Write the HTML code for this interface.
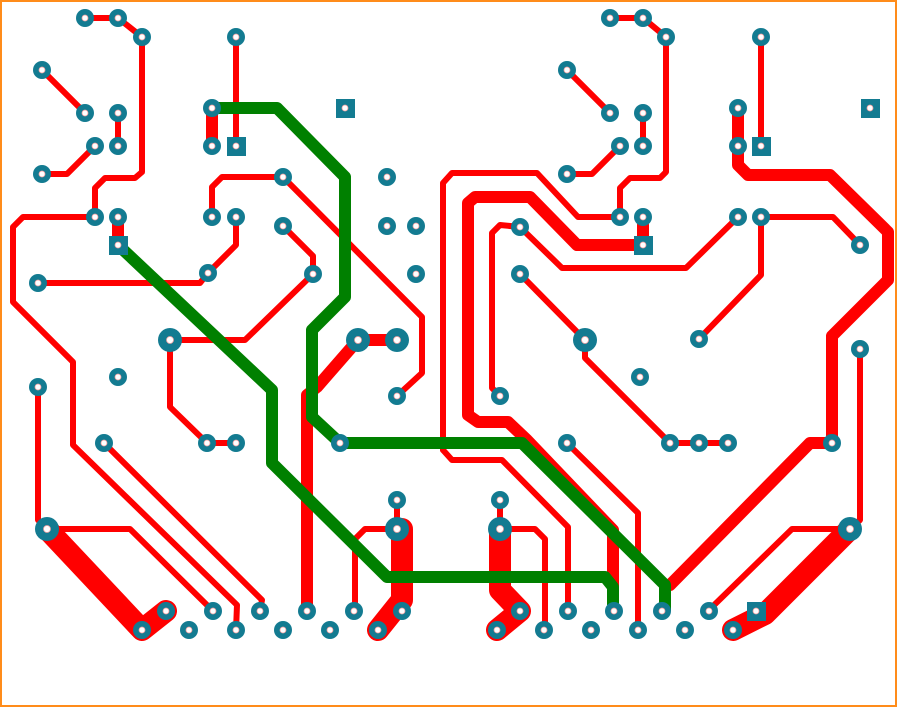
<!DOCTYPE html>
<html><head><meta charset="utf-8"><style>html,body{margin:0;padding:0;background:#fff}svg{display:block}</style></head>
<body>
<svg width="898" height="709" viewBox="0 0 898 709" xmlns="http://www.w3.org/2000/svg">
<rect x="1" y="1" width="895" height="705" fill="#fff" stroke="#ff8c1a" stroke-width="2"/>
<g fill="none" stroke="#ff0000" stroke-linejoin="round" stroke-linecap="round" stroke-width="6">
<polyline points="85,18 118,18 142,37 142,172 135,178 105,178 95,188 95,217"/>
<polyline points="236,37 236,146"/>
<polyline points="42,70 85,113"/>
<polyline points="118,113 118,146"/>
<polyline points="95,146 67,174 42,174"/>
<polyline points="283,177 222,177 212,187 212,217"/>
<polyline points="236,217 236,245 208,273 200,283 38,283"/>
<polyline points="95,217 23,217 13,227 13,302 73,362 73,445 237,605 236,630"/>
<polyline points="283,226 313,256 313,274 245,340 170,340 170,407 207,443 236,443"/>
<polyline points="283,177 422,317 422,373 397,396"/>
<polyline points="38,387 38,520 47,529 130,529 213,611"/>
<polyline points="104,443 262,600 260,611"/>
<polyline points="443,450 443,183 452,173 537,173 578,217 620,217"/>
<polyline points="443,450 452,460 502,460 568,527 568,611"/>
<polyline points="500,396 492,388 492,233 500,225 520,227 562,268 686,268 738,217"/>
<polyline points="761,217 833,217 860,245"/>
<polyline points="761,217 761,275 699,339"/>
<polyline points="520,274 585,340 585,358 670,443 728,443"/>
<polyline points="666,37 666,172 660,178 630,178 620,188 620,217"/>
<polyline points="567,70 610,113"/>
<polyline points="643,113 643,146"/>
<polyline points="620,146 592,174 567,174"/>
<polyline points="610,18 643,18 666,37"/>
<polyline points="761,37 761,146"/>
<polyline points="860,349 860,520 850,529"/>
<polyline points="850,529 792,529 708,611"/>
<polyline points="567,443 638,513 638,630"/>
<polyline points="397,500 397,529 365,529 355,539 355,611"/>
<polyline points="500,500 500,529 535,529 545,539 545,630"/>
</g>
<g fill="none" stroke="#ff0000" stroke-linejoin="round" stroke-linecap="round" stroke-width="12">
<polyline points="212,108 212,146"/>
<polyline points="358,340 397,340"/>
<polyline points="358,340 317,387 307,395 307,611"/>
<polyline points="468,360 468,203 475,197 530,197 577,245 643,245"/>
<polyline points="643,225 643,245"/>
<polyline points="468,360 468,415 478,422 508,422 527,440 613,530 613,600"/>
<polyline points="738,108 738,165 748,175 830,175 888,232 888,280 832,336 832,443 810,443 670,585"/>
<polyline points="118,217 118,245"/>
</g>
<g fill="none" stroke="#ff0000" stroke-linejoin="round" stroke-linecap="round" stroke-width="22">
<polyline points="47,529 142,630 166,611"/>
<polyline points="402,529 402,600 378,630"/>
<polyline points="500,529 500,590 520,611 497,630"/>
<polyline points="850,529 765,614 733,630"/>
</g>
<g fill="none" stroke="#008000" stroke-linejoin="round" stroke-width="12">
<polyline points="212,108 277,108 345,177 345,297 312,330 312,417 340,443 522,443 665,585 665,611"/>
<polyline points="118,245 272,390 272,463 387,577 605,577 613,587 613,605"/>
</g>
<g fill="#137b91">
<rect x="336" y="99" width="19" height="19"/><rect x="227" y="137" width="19" height="19"/>
<rect x="109" y="236" width="19" height="19"/><rect x="634" y="236" width="19" height="19"/>
<rect x="752" y="137" width="19" height="19"/><rect x="861" y="99" width="19" height="19"/>
<rect x="747" y="602" width="19" height="19"/>
</g>
<g fill="#137b91">
<circle cx="85" cy="18" r="9"/><circle cx="118" cy="18" r="9"/><circle cx="142" cy="37" r="9"/><circle cx="236" cy="37" r="9"/>
<circle cx="42" cy="70" r="9"/><circle cx="85" cy="113" r="9"/><circle cx="118" cy="113" r="9"/><circle cx="212" cy="108" r="9"/>
<circle cx="95" cy="146" r="9"/><circle cx="118" cy="146" r="9"/><circle cx="212" cy="146" r="9"/><circle cx="42" cy="174" r="9"/>
<circle cx="283" cy="177" r="9"/><circle cx="387" cy="177" r="9"/><circle cx="95" cy="217" r="9"/><circle cx="118" cy="217" r="9"/>
<circle cx="212" cy="217" r="9"/><circle cx="236" cy="217" r="9"/><circle cx="283" cy="226" r="9"/><circle cx="387" cy="226" r="9"/>
<circle cx="416" cy="226" r="9"/><circle cx="208" cy="273" r="9"/><circle cx="313" cy="274" r="9"/><circle cx="416" cy="274" r="9"/>
<circle cx="38" cy="283" r="9"/><circle cx="170" cy="340" r="12"/><circle cx="358" cy="340" r="12"/><circle cx="397" cy="340" r="12"/>
<circle cx="118" cy="377" r="9"/><circle cx="38" cy="387" r="9"/><circle cx="397" cy="396" r="9"/><circle cx="104" cy="443" r="9"/>
<circle cx="207" cy="443" r="9"/><circle cx="236" cy="443" r="9"/><circle cx="340" cy="443" r="9"/><circle cx="47" cy="529" r="12"/>
<circle cx="397" cy="500" r="9"/><circle cx="397" cy="529" r="12"/><circle cx="500" cy="500" r="9"/><circle cx="500" cy="529" r="12"/>
<circle cx="610" cy="18" r="9"/><circle cx="643" cy="18" r="9"/><circle cx="666" cy="37" r="9"/><circle cx="761" cy="37" r="9"/>
<circle cx="567" cy="70" r="9"/><circle cx="610" cy="113" r="9"/><circle cx="643" cy="113" r="9"/><circle cx="738" cy="108" r="9"/>
<circle cx="620" cy="146" r="9"/><circle cx="643" cy="146" r="9"/><circle cx="738" cy="146" r="9"/><circle cx="567" cy="174" r="9"/>
<circle cx="620" cy="217" r="9"/><circle cx="643" cy="217" r="9"/><circle cx="738" cy="217" r="9"/><circle cx="761" cy="217" r="9"/>
<circle cx="520" cy="227" r="9"/><circle cx="860" cy="245" r="9"/><circle cx="520" cy="274" r="9"/><circle cx="585" cy="340" r="12"/>
<circle cx="699" cy="339" r="9"/><circle cx="860" cy="349" r="9"/><circle cx="640" cy="377" r="9"/><circle cx="500" cy="396" r="9"/>
<circle cx="567" cy="443" r="9"/><circle cx="670" cy="443" r="9"/><circle cx="699" cy="443" r="9"/><circle cx="728" cy="443" r="9"/>
<circle cx="832" cy="443" r="9"/><circle cx="850" cy="529" r="12"/>
<circle cx="166" cy="611" r="9"/><circle cx="213" cy="611" r="9"/><circle cx="260" cy="611" r="9"/><circle cx="307" cy="611" r="9"/>
<circle cx="354" cy="611" r="9"/><circle cx="402" cy="611" r="9"/><circle cx="520" cy="611" r="9"/><circle cx="568" cy="611" r="9"/>
<circle cx="614" cy="611" r="9"/><circle cx="662" cy="611" r="9"/><circle cx="709" cy="611" r="9"/>
<circle cx="142" cy="630" r="9"/><circle cx="189" cy="630" r="9"/><circle cx="236" cy="630" r="9"/><circle cx="283" cy="630" r="9"/>
<circle cx="330" cy="630" r="9"/><circle cx="378" cy="630" r="9"/><circle cx="497" cy="630" r="9"/><circle cx="544" cy="630" r="9"/>
<circle cx="591" cy="630" r="9"/><circle cx="638" cy="630" r="9"/><circle cx="685" cy="630" r="9"/><circle cx="733" cy="630" r="9"/>
</g>
<g fill="#fff" stroke="#f4a0a0" stroke-width="0.8">
<circle cx="345" cy="108" r="3"/><circle cx="236" cy="146" r="3"/><circle cx="118" cy="245" r="3"/><circle cx="643" cy="245" r="3"/>
<circle cx="761" cy="146" r="3"/><circle cx="870" cy="108" r="3"/><circle cx="756" cy="611" r="3"/>
<circle cx="85" cy="18" r="3"/><circle cx="118" cy="18" r="3"/><circle cx="142" cy="37" r="3"/><circle cx="236" cy="37" r="3"/>
<circle cx="42" cy="70" r="3"/><circle cx="85" cy="113" r="3"/><circle cx="118" cy="113" r="3"/><circle cx="212" cy="108" r="3"/>
<circle cx="95" cy="146" r="3"/><circle cx="118" cy="146" r="3"/><circle cx="212" cy="146" r="3"/><circle cx="42" cy="174" r="3"/>
<circle cx="283" cy="177" r="3"/><circle cx="387" cy="177" r="3"/><circle cx="95" cy="217" r="3"/><circle cx="118" cy="217" r="3"/>
<circle cx="212" cy="217" r="3"/><circle cx="236" cy="217" r="3"/><circle cx="283" cy="226" r="3"/><circle cx="387" cy="226" r="3"/>
<circle cx="416" cy="226" r="3"/><circle cx="208" cy="273" r="3"/><circle cx="313" cy="274" r="3"/><circle cx="416" cy="274" r="3"/>
<circle cx="38" cy="283" r="3"/><circle cx="170" cy="340" r="3.5"/><circle cx="358" cy="340" r="3.5"/><circle cx="397" cy="340" r="3.5"/>
<circle cx="118" cy="377" r="3"/><circle cx="38" cy="387" r="3"/><circle cx="397" cy="396" r="3"/><circle cx="104" cy="443" r="3"/>
<circle cx="207" cy="443" r="3"/><circle cx="236" cy="443" r="3"/><circle cx="340" cy="443" r="3"/><circle cx="47" cy="529" r="3.5"/>
<circle cx="397" cy="500" r="3"/><circle cx="397" cy="529" r="3.5"/><circle cx="500" cy="500" r="3"/><circle cx="500" cy="529" r="3.5"/>
<circle cx="610" cy="18" r="3"/><circle cx="643" cy="18" r="3"/><circle cx="666" cy="37" r="3"/><circle cx="761" cy="37" r="3"/>
<circle cx="567" cy="70" r="3"/><circle cx="610" cy="113" r="3"/><circle cx="643" cy="113" r="3"/><circle cx="738" cy="108" r="3"/>
<circle cx="620" cy="146" r="3"/><circle cx="643" cy="146" r="3"/><circle cx="738" cy="146" r="3"/><circle cx="567" cy="174" r="3"/>
<circle cx="620" cy="217" r="3"/><circle cx="643" cy="217" r="3"/><circle cx="738" cy="217" r="3"/><circle cx="761" cy="217" r="3"/>
<circle cx="520" cy="227" r="3"/><circle cx="860" cy="245" r="3"/><circle cx="520" cy="274" r="3"/><circle cx="585" cy="340" r="3.5"/>
<circle cx="699" cy="339" r="3"/><circle cx="860" cy="349" r="3"/><circle cx="640" cy="377" r="3"/><circle cx="500" cy="396" r="3"/>
<circle cx="567" cy="443" r="3"/><circle cx="670" cy="443" r="3"/><circle cx="699" cy="443" r="3"/><circle cx="728" cy="443" r="3"/>
<circle cx="832" cy="443" r="3"/><circle cx="850" cy="529" r="3.5"/>
<circle cx="166" cy="611" r="3"/><circle cx="213" cy="611" r="3"/><circle cx="260" cy="611" r="3"/><circle cx="307" cy="611" r="3"/>
<circle cx="354" cy="611" r="3"/><circle cx="402" cy="611" r="3"/><circle cx="520" cy="611" r="3"/><circle cx="568" cy="611" r="3"/>
<circle cx="614" cy="611" r="3"/><circle cx="662" cy="611" r="3"/><circle cx="709" cy="611" r="3"/>
<circle cx="142" cy="630" r="3"/><circle cx="189" cy="630" r="3"/><circle cx="236" cy="630" r="3"/><circle cx="283" cy="630" r="3"/>
<circle cx="330" cy="630" r="3"/><circle cx="378" cy="630" r="3"/><circle cx="497" cy="630" r="3"/><circle cx="544" cy="630" r="3"/>
<circle cx="591" cy="630" r="3"/><circle cx="638" cy="630" r="3"/><circle cx="685" cy="630" r="3"/><circle cx="733" cy="630" r="3"/>
</g>
</svg>
</body></html>
